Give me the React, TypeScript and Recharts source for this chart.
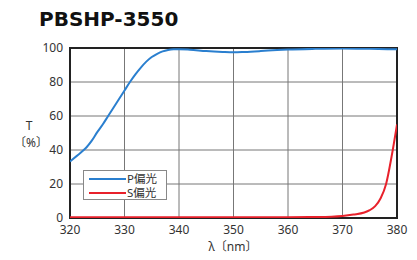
import React from 'react';
import { LineChart, Line, XAxis, YAxis, CartesianGrid, ReferenceArea } from 'recharts';

const title = 'PBSHP-3550';
const xTicks = [320, 330, 340, 350, 360, 370, 380];
const yTicks = [0, 20, 40, 60, 80, 100];

const pWavelengths = [320, 322, 323, 324, 325, 326, 327, 328, 329, 330, 331, 332, 333, 334, 335, 336, 337, 338, 339, 340, 342, 345, 348, 350, 352, 355, 358, 360, 365, 370, 375, 380];
const pValues = [33.3, 38.5, 41.5, 45.5, 50.5, 55, 60, 65, 70, 75, 80, 84.5, 88.5, 92, 94.7, 96.6, 98, 98.8, 99.2, 99.3, 99, 98.2, 97.7, 97.5, 97.7, 98.2, 98.8, 99.1, 99.5, 99.7, 99.5, 99.2];

const sWavelengths = [320, 330, 340, 350, 360, 365, 368, 370, 372, 374, 375, 376, 377, 378, 379, 380];
const sValues = [0.5, 0.5, 0.5, 0.5, 0.5, 0.6, 0.8, 1.2, 2, 3.2, 4.6, 7, 11.6, 20, 36, 55];

const pData = pWavelengths.map((x, i) => ({ x, v: pValues[i] }));
const sData = sWavelengths.map((x, i) => ({ x, v: sValues[i] }));

const FONT = '"Noto Sans", "Noto Sans CJK JP", sans-serif';
const BLUE = '#2a7fcf';
const RED = '#e8212b';

export default function App() {
  return (
    <div style={{ position: 'absolute', left: 0, top: 0, width: 417, height: 260, background: '#fff', fontFamily: FONT }}>
      <div style={{ position: 'absolute', left: 39, top: 7, fontFamily: '"DejaVu Sans", sans-serif', fontWeight: 'bold', fontSize: 20, color: '#111', lineHeight: '24px' }}>{title}</div>
      <LineChart width={417} height={260} margin={{ top: 48, right: 20, bottom: 12, left: 30 }}>
        <CartesianGrid stroke="#777" strokeWidth={1} horizontal vertical />
        <XAxis
          type="number"
          dataKey="x"
          domain={[320, 380]}
          ticks={xTicks}
          height={30}
          allowDataOverflow
          tickLine={false}
          tickSize={0}
          tickMargin={7}
          axisLine={false}
          tick={{ fill: '#333', fontSize: 12, fontFamily: FONT }}
        />
        <YAxis
          type="number"
          dataKey="v"
          domain={[0, 100]}
          ticks={yTicks}
          width={40}
          allowDataOverflow
          tickLine={false}
          tickSize={0}
          tickMargin={7}
          axisLine={false}
          tick={{ fill: '#333', fontSize: 12, fontFamily: FONT }}
        />
        <Line data={pData} dataKey="v" type="monotone" stroke={BLUE} strokeWidth={2} dot={false} isAnimationActive={false} />
        <Line data={sData} dataKey="v" type="monotone" stroke={RED} strokeWidth={2} dot={false} isAnimationActive={false} />
        <ReferenceArea x1={320} x2={380} y1={0} y2={100} fill="none" stroke="#222" strokeWidth={2} />
      </LineChart>
      <div style={{ position: 'absolute', left: 20, top: 119, width: 18, textAlign: 'center', fontSize: 12, color: '#333', lineHeight: '14px' }}>T</div>
      <div style={{ position: 'absolute', left: 14, top: 136, width: 32, textAlign: 'center', fontSize: 12, color: '#333', lineHeight: '14px', whiteSpace: 'nowrap' }}>〔%〕</div>
      <div style={{ position: 'absolute', left: 183, top: 240, width: 100, textAlign: 'center', fontSize: 12, color: '#333', lineHeight: '14px', whiteSpace: 'nowrap' }}>λ〔nm〕</div>
      <div style={{ position: 'absolute', left: 83, top: 170, width: 82, height: 28, border: '1px solid #888', background: '#fff', boxSizing: 'content-box' }}>
        <div style={{ position: 'absolute', left: 5, top: 7, width: 37, height: 2, background: BLUE }} />
        <div style={{ position: 'absolute', left: 43, top: 1.5, fontSize: 11.5, color: '#333', lineHeight: '12px', whiteSpace: 'nowrap' }}>P偏光</div>
        <div style={{ position: 'absolute', left: 5, top: 21, width: 37, height: 2, background: RED }} />
        <div style={{ position: 'absolute', left: 43, top: 15.5, fontSize: 11.5, color: '#333', lineHeight: '12px', whiteSpace: 'nowrap' }}>S偏光</div>
      </div>
    </div>
  );
}
